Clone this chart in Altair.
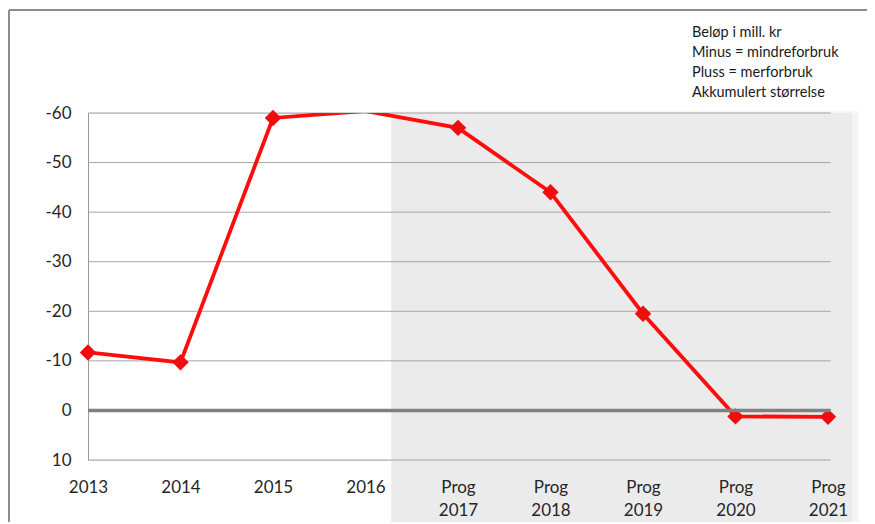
import altair as alt
import pandas as pd

categories = ["2013", "2014", "2015", "2016", "Prog 2017", "Prog 2018", "Prog 2019", "Prog 2020", "Prog 2021"]
values = [-11.7, -9.7, -59.0, -60.4, -57.0, -44.0, -19.5, 1.2, 1.3]
y_ticks = [-60, -50, -40, -30, -20, -10, 0, 10]
notes = ["Beløp i mill. kr", "Minus = mindreforbruk", "Pluss = merforbruk", "Akkumulert størrelse"]
# forecast shading band (in category-index units and value units)
shade_x = [3.28, 8.26]
shade_y = [-60, 23]

FONT = "Lato"
df = pd.DataFrame({"i": list(range(len(categories))), "cat": categories, "value": values})
grid_df = pd.DataFrame({"v": [t for t in y_ticks if t != 0]})

label_arr = "[" + ",".join("[" + ",".join("'" + p + "'" for p in c.split(" ")) + "]" for c in categories) + "]"

xscale = alt.Scale(domain=[0, len(categories) - 1], nice=False, zero=False)
yscale = alt.Scale(domain=[-60, 10], reverse=True, nice=False, zero=False)

x_axis = alt.Axis(values=list(range(len(categories))), labelExpr=label_arr + "[datum.value]",
                  grid=False, ticks=False, domain=False, labelPadding=19, labelFont=FONT,
                  labelFontSize=17, labelColor="#262626", labelLineHeight=23, title=None,
                  labelBaseline="top", labelFlush=False, zindex=1)
y_axis = alt.Axis(values=y_ticks, grid=False, ticks=False, domain=True, domainColor="#9a9a9a",
                  domainWidth=1, labelPadding=17, labelFont=FONT, labelFontSize=17,
                  labelColor="#262626", title=None, labelExpr="toString(datum.value)")

frame_top = alt.Chart().mark_rule(color="#8c8c8c", strokeWidth=2).encode(
    x=alt.value(-79), x2=alt.value(900), y=alt.value(-103))
frame_left = alt.Chart().mark_rule(color="#8c8c8c", strokeWidth=2).encode(
    x=alt.value(-79), y=alt.value(-103), y2=alt.value(600))

shadow = alt.Chart().mark_rect(color="#f4f4f4").encode(
    x=alt.datum(shade_x[0], scale=xscale), x2=alt.datum(shade_x[1] + 0.07),
    y=alt.datum(shade_y[0] - 0.3, scale=yscale), y2=alt.datum(shade_y[1]))
shade = alt.Chart().mark_rect(color="#ebebeb").encode(
    x=alt.datum(shade_x[0], scale=xscale), x2=alt.datum(shade_x[1]),
    y=alt.datum(shade_y[0], scale=yscale), y2=alt.datum(shade_y[1]))

grid = alt.Chart(grid_df).mark_rule(color="#a6a6a6", strokeWidth=1).encode(
    y=alt.Y("v:Q", scale=yscale, axis=y_axis),
    x=alt.datum(0, scale=xscale, axis=x_axis), x2=alt.datum(8.03))

line = alt.Chart(df).mark_line(color="#ff0d0d", strokeWidth=3.8, clip=True).encode(
    x=alt.X("i:Q", scale=xscale, axis=x_axis), y=alt.Y("value:Q", scale=yscale, axis=y_axis))
points = alt.Chart(df).transform_filter("datum.value >= -60").mark_point(
    shape="diamond", filled=True, size=270, color="#f00d0d", opacity=1).encode(
    x=alt.X("i:Q", scale=xscale), y=alt.Y("value:Q", scale=yscale))

zero = alt.Chart().mark_rule(color="#808080", strokeWidth=3.5).encode(
    y=alt.datum(0, scale=yscale), x=alt.datum(0, scale=xscale), x2=alt.datum(8.03))

note = alt.Chart().mark_text(align="left", baseline="top", font=FONT, fontSize=14.5,
                             lineHeight=20, color="#1a1a1a").encode(
    x=alt.value(604), y=alt.value(-87), text=alt.value(notes))

chart = alt.layer(frame_top, frame_left, shadow, shade, grid, line, points, zero, note).properties(
    width=740, height=347,
    autosize=alt.AutoSizeParams(type="none"),
    padding={"left": 80, "top": 105, "right": 39, "bottom": 62},
).configure_view(stroke=None).configure(background="white")

chart.save("out.html", embed_options={"renderer": "svg", "actions": False})
